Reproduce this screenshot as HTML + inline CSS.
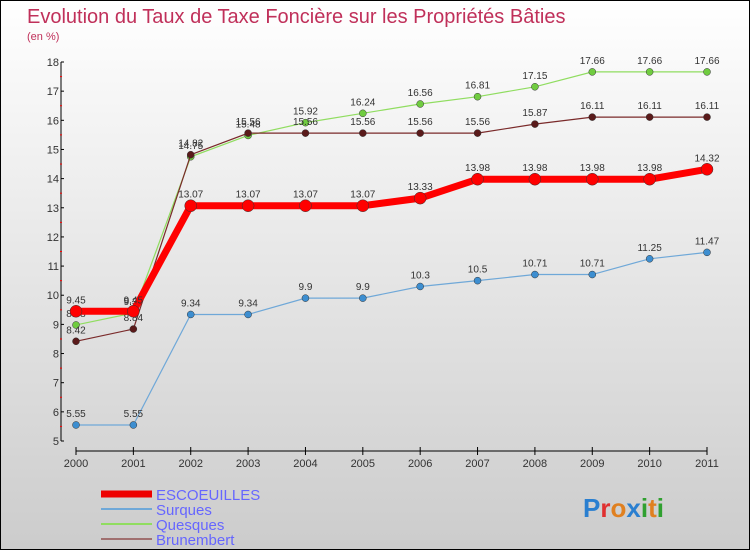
<!DOCTYPE html>
<html><head><meta charset="utf-8"><style>
body{margin:0}
#c{width:750px;height:550px;position:relative;box-sizing:border-box;border:1px solid #000;background:linear-gradient(#fff,#ccc);font-family:"Liberation Sans",sans-serif;overflow:hidden}
</style></head><body>
<div id="c">
<svg id="s" width="750" height="550" style="position:absolute;left:0;top:0">
<text x="26" y="22" font-size="20" fill="#c0305a">Evolution du Taux de Taxe Foncière sur les Propriétés Bâties</text>
<text x="26" y="39" font-size="11" fill="#c0305a">(en %)</text>
</svg>
</div>
<script>
const years=["2000","2001","2002","2003","2004","2005","2006","2007","2008","2009","2010","2011"];
const escoeuilles=[9.45,9.45,13.07,13.07,13.07,13.07,13.33,13.98,13.98,13.98,13.98,14.32];
const surques=[5.55,5.55,9.34,9.34,9.9,9.9,10.3,10.5,10.71,10.71,11.25,11.47];
const quesques=[8.98,9.39,14.75,15.48,15.92,16.24,16.56,16.81,17.15,17.66,17.66,17.66];
const brunembert=[8.42,8.84,14.82,15.56,15.56,15.56,15.56,15.56,15.87,16.11,16.11,16.11];
const yTicks=[5,6,7,8,9,10,11,12,13,14,15,16,17,18];
const NS="http://www.w3.org/2000/svg",s=document.getElementById('s');
const X=i=>75+i*(706-75)/11, Y=v=>440-(v-5)*(440-61)/13;
function el(t,a,p){const e=document.createElementNS(NS,t);for(const k in a)e.setAttribute(k,a[k]);(p||s).appendChild(e);return e;}
let ax=el('line',{x1:60,y1:61,x2:60,y2:440,stroke:'#000'});

yTicks.forEach(v=>{el('line',{x1:60,x2:63,y1:Y(v),y2:Y(v),stroke:'#000'});
 if(v<18)el('line',{x1:59,x2:61,y1:Y(v+0.5),y2:Y(v+0.5),stroke:'red'});
 const t=el('text',{x:58,y:Y(v)+4,'font-size':11,fill:'#333','text-anchor':'end'});t.textContent=v;
 });
let xa=el('line',{x1:75,y1:450,x2:706,y2:450,stroke:'#000'});

years.forEach((y,i)=>{el('line',{x1:X(i),x2:X(i),y1:446,y2:454,stroke:'#000'});
 const t=el('text',{x:X(i),y:466,'font-size':11,fill:'#333','text-anchor':'middle'});t.textContent=y;
 });
function series(d,color,w,r,name,fill){
 const g=el('g',{});
 el('polyline',{points:d.map((v,i)=>X(i)+','+Y(v)).join(' '),fill:'none',stroke:color,'stroke-width':w},g);
 d.forEach((v,i)=>{const c=el('circle',{cx:X(i),cy:Y(v),r:r,fill:fill,stroke:'#333','stroke-width':0.5},g);
  
  const t=el('text',{x:X(i),y:Y(v)-8,'font-size':10,fill:'#333','text-anchor':'middle'},g);t.textContent=v;
  });
}
series(surques,'#6fa8d8',1.2,3.5,'surques','#3d8ed0');
series(quesques,'#90dd60',1.2,3.5,'quesques','#70cc40');
series(brunembert,'#7a2a2a',1.2,3.5,'brunembert','#5a1a1a');
series(escoeuilles,'#ff0000',7,6,'escoeuilles','#ff0000');
const leg=[['ESCOEUILLES','#ee0000',7],['Surques','#6fa8d8',2],['Quesques','#90dd60',2],['Brunembert','#a07070',2]];
leg.forEach((l,i)=>{const y=493+i*15;const g=el('g',{});
 
 el('line',{x1:100,x2:151,y1:y,y2:y,stroke:l[1],'stroke-width':l[2]},g);
 const t=el('text',{x:155,y:y+6,'font-size':15,fill:'#6666ff'},g);t.textContent=l[0];});
const lg=el('text',{x:582,y:516,'font-size':26,'font-weight':'bold'});

[['P','#2a7fd0'],['r','#e03030'],['o','#e08020'],['x','#2a7fd0'],['i','#30a030'],['t','#e08020'],['i','#30a030']].forEach(p=>{const ts=el('tspan',{fill:p[1]},lg);ts.textContent=p[0];});
</script>
</body></html>
